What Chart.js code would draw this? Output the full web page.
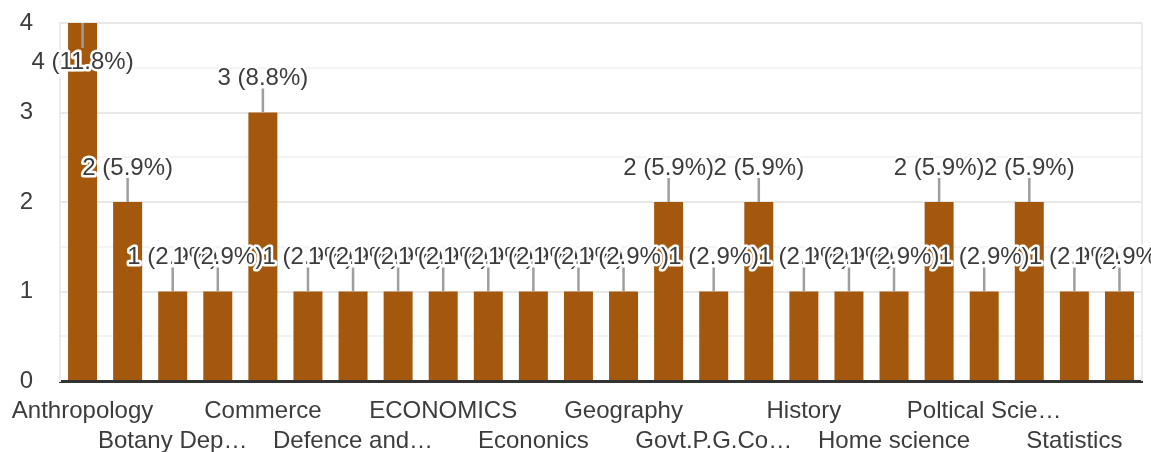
<!DOCTYPE html>
<html>
<head>
<meta charset="utf-8">
<script src="https://cdn.jsdelivr.net/npm/chart.js@4.4.1/dist/chart.umd.min.js"></script>
<style>
  html, body { margin: 0; padding: 0; background: #fff; }
  #wrap { width: 1151px; height: 452px; }
</style>
</head>
<body>
<div id="wrap"><canvas id="chart"></canvas></div>
<script>
// Datos
const categories = [
  "Anthropology", "Botany", "Botany Department", "Chemistry",
  "Commerce", "Computer Science", "Defence and Strategic Studies", "Drawing and Painting",
  "ECONOMICS", "Economics", "Econonics", "English",
  "Geography", "Geology", "Govt.P.G.College", "Hindi",
  "History", "Home Science", "Home science", "Mathematics",
  "Poltical Science", "Psychology", "Statistics", "Zoology"
];
const counts = [4, 2, 1, 1, 3, 1, 1, 1, 1, 1, 1, 1, 1, 2, 1, 2, 1, 1, 1, 2, 1, 2, 1, 1];
const yTicks = [0, 1, 2, 3, 4];

const total = counts.reduce((a, b) => a + b, 0);
const FONT = "'Liberation Sans', Arial, sans-serif";
const TEXT = "#3c3c3c";
const BAR = "#a3580e";

// Recortar etiquetas largas con "…"
const measureCtx = document.createElement("canvas").getContext("2d");
measureCtx.font = "24px " + FONT;
function shorten(label, maxW) {
  if (measureCtx.measureText(label).width <= maxW) return label;
  let s = label;
  while (s.length && measureCtx.measureText(s + "…").width > maxW) s = s.slice(0, -1);
  return s.trimEnd() + "…";
}

// Etiquetas de valor con línea guía
const barLabels = {
  id: "barLabels",
  beforeDatasetsDraw(chart) {
    const { ctx, chartArea } = chart;
    ctx.save();
    ctx.strokeStyle = "#ebebeb";
    ctx.lineWidth = 2;
    ctx.beginPath();
    ctx.moveTo(chartArea.right, chartArea.top);
    ctx.lineTo(chartArea.right, chartArea.bottom);
    ctx.stroke();
    ctx.restore();
  },
  afterDatasetsDraw(chart) {
    const ctx = chart.ctx;
    const meta = chart.getDatasetMeta(0);
    ctx.save();
    ctx.font = "24px " + FONT;
    ctx.textAlign = "center";
    ctx.textBaseline = "middle";
    ctx.lineJoin = "round";
    meta.data.forEach((bar, i) => {
      const pct = (counts[i] / total * 100).toFixed(1);
      const text = counts[i] + " (" + pct + "%)";
      const below = bar.y - 50 < 0;
      const lineEnd = below ? bar.y + 25 : bar.y - 24;
      const ty = below ? bar.y + 39 : bar.y - 34;

      ctx.strokeStyle = "#9e9e9e";
      ctx.lineWidth = 2.5;
      ctx.beginPath();
      ctx.moveTo(bar.x, bar.y);
      ctx.lineTo(bar.x, lineEnd);
      ctx.stroke();

      ctx.strokeStyle = "#ffffff";
      ctx.lineWidth = 5;
      ctx.strokeText(text, bar.x, ty);
      ctx.fillStyle = TEXT;
      ctx.fillText(text, bar.x, ty);
    });
    ctx.restore();
  }
};

const ctx = document.getElementById("chart").getContext("2d");
new Chart(ctx, {
  type: "bar",
  data: {
    labels: categories,
    datasets: [{
      data: counts,
      backgroundColor: BAR,
      categoryPercentage: 1,
      barPercentage: 0.643
    }]
  },
  options: {
    responsive: true,
    maintainAspectRatio: false,
    animation: false,
    layout: { padding: { top: 23, right: 9, left: 0, bottom: 0 } },
    plugins: {
      legend: { display: false },
      tooltip: { enabled: false }
    },
    scales: {
      x: {
        afterFit(scale) {
          scale.height = 71;
          scale.paddingLeft = 0;
          scale.paddingRight = 0;
        },
        grid: { drawOnChartArea: false, drawTicks: false },
        border: { color: "#333333", width: 3 },
        ticks: {
          autoSkip: false,
          maxRotation: 0,
          minRotation: 0,
          padding: 15,
          color: TEXT,
          font: { family: FONT, size: 24, lineHeight: 1.25 },
          callback(value, index) {
            const label = shorten(categories[index], 162);
            if (index % 4 === 0) return [label, ""];
            if (index % 4 === 2) return ["", label];
            return "";
          }
        }
      },
      y: {
        min: 0,
        max: 4,
        afterFit(scale) {
          scale.width = 60;
          // sin margen extra arriba/abajo por las etiquetas
          scale.paddingTop = 0;
          scale.paddingBottom = 0;
        },
        border: { color: "#ebebeb", width: 2 },
        grid: {
          drawTicks: false,
          lineWidth: 2,
          color: (c) => Number.isInteger(c.tick.value) ? "#e8e8e8" : "#f4f4f4"
        },
        ticks: {
          stepSize: 0.5,
          padding: 27,
          color: TEXT,
          font: { family: FONT, size: 24 },
          callback: (v) => yTicks.includes(v) ? v : ""
        }
      }
    }
  },
  plugins: [barLabels]
});
</script>
</body>
</html>
